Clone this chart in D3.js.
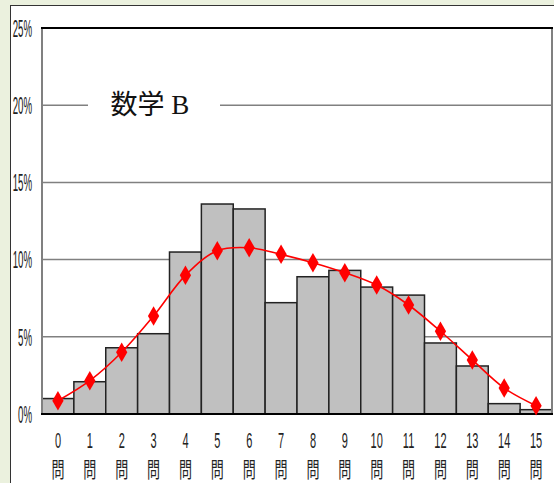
<!DOCTYPE html>
<html>
  <head>
    <meta charset="utf-8">
    <title>数学B 得点分布</title>
    <style>
      body { margin: 0; background: #ebf1de; }
      svg { display: block; }
    </style>
  </head>
  <body>
    <script src="https://cdn.jsdelivr.net/npm/d3@7/dist/d3.min.js" charset="utf-8"></script>
    <script type="text/javascript">
      var categories = ["0", "1", "2", "3", "4", "5", "6", "7", "8", "9", "10", "11", "12", "13", "14", "15"];
      var barValues = [1.0, 2.09, 4.29, 5.2, 10.49, 13.6, 13.28, 7.21, 8.89, 9.3, 8.22, 7.7, 4.6, 3.11, 0.67, 0.28];
      var lineValues = [0.86, 2.16, 4.0, 6.35, 8.98, 10.58, 10.77, 10.34, 9.8, 9.15, 8.35, 7.06, 5.36, 3.5, 1.68, 0.54];
      var yTicks = [0, 5, 10, 15, 20, 25];
      var unitLabel = "問";
      var title = "数学 B";

      var width = 554;
      var height = 483;
      var plotLeft = 42, plotRight = 552, plotTop = 28, plotBottom = 414;

      var svg = d3.select("body")
                  .append("svg")
                  .attr("width", width)
                  .attr("height", height);

      // panel
      svg.append("rect")
         .attr("x", 0).attr("y", 0)
         .attr("width", width).attr("height", height)
         .attr("fill", "#ebf1de");
      svg.append("rect")
         .attr("x", 10.5).attr("y", 5.5)
         .attr("width", width).attr("height", height)
         .attr("fill", "white")
         .attr("stroke", "#333")
         .attr("stroke-width", 1);

      var x = d3.scaleBand()
                .domain(categories)
                .range([plotLeft, plotRight])
                .padding(0);

      var y = d3.scaleLinear()
                .domain([0, 25])
                .range([plotBottom, plotTop]);

      // gridlines
      svg.append("g")
         .selectAll("line")
         .data(yTicks.filter(function(d) { return d > 0 && d < 25; }))
         .join("line")
         .attr("x1", plotLeft).attr("x2", plotRight)
         .attr("y1", function(d) { return y(d); })
         .attr("y2", function(d) { return y(d); })
         .attr("stroke", "#808080")
         .attr("stroke-width", 1.5);

      // bars
      svg.append("g")
         .selectAll("rect")
         .data(barValues)
         .join("rect")
         .attr("x", function(d, i) { return x(categories[i]); })
         .attr("y", function(d) { return y(d); })
         .attr("width", x.bandwidth())
         .attr("height", function(d) { return y(0) - y(d); })
         .attr("fill", "#c0c0c0")
         .attr("stroke", "#222")
         .attr("stroke-width", 1.5);

      // frame
      svg.append("line")
         .attr("x1", plotLeft).attr("x2", plotLeft)
         .attr("y1", plotTop).attr("y2", plotBottom)
         .attr("stroke", "#808080").attr("stroke-width", 2);
      svg.append("line")
         .attr("x1", plotRight).attr("x2", plotRight)
         .attr("y1", plotTop).attr("y2", plotBottom)
         .attr("stroke", "#808080").attr("stroke-width", 2);
      svg.append("line")
         .attr("x1", plotLeft - 1).attr("x2", plotRight + 1)
         .attr("y1", y(25)).attr("y2", y(25))
         .attr("stroke", "black").attr("stroke-width", 2);
      svg.append("line")
         .attr("x1", plotLeft - 1).attr("x2", plotRight + 1)
         .attr("y1", y(0)).attr("y2", y(0))
         .attr("stroke", "black").attr("stroke-width", 2);

      // title over the 20% line
      svg.append("rect")
         .attr("x", 88).attr("y", y(20) - 14)
         .attr("width", 132).attr("height", 28)
         .attr("fill", "white");
      svg.append("text")
         .attr("x", 150)
         .attr("y", y(20) + 9)
         .attr("text-anchor", "middle")
         .attr("font-family", "'Liberation Serif', 'Noto Sans CJK JP', serif")
         .attr("font-size", 27)
         .attr("fill", "#111")
         .text(title);

      // red line with diamonds
      var cx = function(i) { return x(categories[i]) + x.bandwidth() / 2; };
      var line = d3.line()
                   .x(function(d, i) { return cx(i); })
                   .y(function(d) { return y(d); })
                   .curve(d3.curveCatmullRom);

      svg.append("path")
         .datum(lineValues)
         .attr("d", line)
         .attr("fill", "none")
         .attr("stroke", "#ff0000")
         .attr("stroke-width", 1.6);

      svg.append("g")
         .selectAll("path")
         .data(lineValues)
         .join("path")
         .attr("transform", function(d, i) { return "translate(" + cx(i) + "," + y(d) + ")"; })
         .attr("d", d3.symbol().type(d3.symbolDiamond).size(110))
         .attr("fill", "#ff0000");

      // y axis labels (condensed)
      var yAxis = svg.append("g")
                     .attr("transform", "translate(32,0)")
                     .call(d3.axisLeft(y).tickValues(yTicks).tickFormat(function(d) { return d + "%"; }).tickSize(0).tickPadding(0));
      yAxis.select(".domain").remove();
      yAxis.selectAll("text")
           .attr("x", 0)
           .attr("dy", "0.36em")
           .attr("transform", "scale(0.42,1)")
           .attr("font-family", "'Liberation Sans', Arial, sans-serif")
           .attr("font-size", 23)
           .attr("fill", "#222");

      // x axis labels: number on top, 問 underneath
      var xAxis = svg.append("g")
                     .call(d3.axisBottom(x).tickSize(0));
      xAxis.select(".domain").remove();
      xAxis.selectAll(".tick").each(function(d) {
        var g = d3.select(this);
        g.select("text").remove();
        g.append("text")
         .attr("transform", "translate(0,448) scale(0.5,1)")
         .attr("text-anchor", "middle")
         .attr("font-family", "'Liberation Sans', Arial, sans-serif")
         .attr("font-size", 22)
         .attr("fill", "#222")
         .text(d);
        g.append("text")
         .attr("transform", "translate(0,477) scale(0.62,1)")
         .attr("text-anchor", "middle")
         .attr("font-family", "'Noto Sans CJK JP', sans-serif")
         .attr("font-size", 21)
         .attr("fill", "#222")
         .text(unitLabel);
      });
    </script>
  </body>
</html>
